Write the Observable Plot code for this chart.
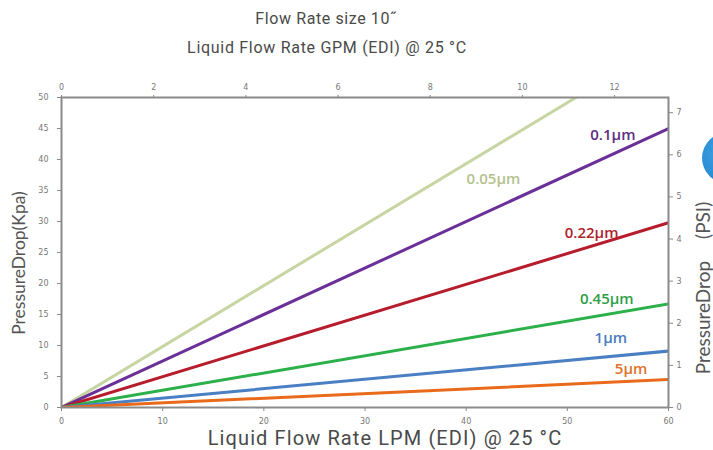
<!DOCTYPE html>
<html>
<head>
<meta charset="utf-8">
<script src="https://cdn.jsdelivr.net/npm/d3@7"></script>
<script src="https://cdn.jsdelivr.net/npm/@observablehq/plot@0.6"></script>
<style>
  html, body { margin: 0; padding: 0; background: #fff; }
  #wrap { position: relative; width: 713px; height: 450px; overflow: hidden; background: #fff; }
  #chart { position: absolute; left: 0; top: 0; }
  .t { position: absolute; white-space: nowrap; color: #4a4a4a; font-family: Roboto, "Noto Sans", sans-serif; }
  .rot { transform: translate(-50%, -50%) rotate(-90deg); line-height: 1; }
  .ctr { transform: translate(-50%, -50%); }
  #blob { position: absolute; left: 702px; top: 132px; width: 54px; height: 52px; border-radius: 50%;
          background: radial-gradient(circle at 35% 40%, #3aa0e4, #1f7cc4); }
</style>
</head>
<body>
<div id="wrap">
  <div id="chart"></div>
  <div id="blob"></div>
  <div class="t ctr" style="left:326px; top:18px; font-size:16px; letter-spacing:0.6px;">Flow Rate size 10˝</div>
  <div class="t ctr" style="left:327px; top:47px; font-size:16px; letter-spacing:0.7px;">Liquid Flow Rate GPM (EDI) @ 25 °C</div>
  <div class="t ctr" style="left:385px; top:438px; font-size:20px; letter-spacing:1.1px;">Liquid Flow Rate LPM (EDI) @ 25 °C</div>
  <div class="t rot" style="left:19px; top:263px; font-size:17.5px; font-family: Lato, 'Open Sans', sans-serif; color:#555;">PressureDrop(Kpa)</div>
  <div class="t rot" style="left:702px; top:288px; font-size:19px; font-family: Lato, 'Open Sans', sans-serif; color:#555;">PressureDrop<span style="display:inline-block;width:22px"></span>(PSI)</div>
</div>
<script>
// ---- data ----
const sizes      = ["0.05μm", "0.1μm", "0.22μm", "0.45μm", "1μm", "5μm"];
const flowLPM    = [0, 60];                          // flow endpoints (LPM)
const dropAt0    = [0, 0, 0, 0, 0, 0];               // Kpa at 0 LPM
const dropAt60   = [59.0, 45.0, 29.8, 16.7, 9.1, 4.5]; // Kpa at 60 LPM
const labelLPM   = [42.7, 54.5, 52.4, 53.9, 54.3, 56.3];
const labelKpa   = [36.9, 44.0, 28.1, 17.4, 11.1, 6.1];
const lineColors = ["#c6d5a1", "#6b2f99", "#b71c2c", "#2bb04a", "#4a7fc4", "#ea6a1c"];
const textColors = ["#b3c28e", "#5c2d82", "#b01f2d", "#2e9e47", "#4a7cc0", "#e0722a"];

const lpmTicks = [0, 10, 20, 30, 40, 50, 60];
const kpaTicks = [0, 5, 10, 15, 20, 25, 30, 35, 40, 45, 50];
const gpmTicks = [0, 2, 4, 6, 8, 10, 12];
const psiTicks = [0, 1, 2, 3, 4, 5, 6, 7];
const gpmMax = 13.17;   // top axis value at the right edge
const psiMax = 7.36;    // right axis value at the top edge

// ---- build tables ----
const lineData = [];
sizes.forEach((s, i) => {
  lineData.push({size: s, lpm: flowLPM[0], kpa: dropAt0[i]});
  lineData.push({size: s, lpm: flowLPM[1], kpa: dropAt60[i]});
});
const labelData = sizes.map((s, i) => ({size: s, lpm: labelLPM[i], kpa: labelKpa[i], color: textColors[i]}));

const lpmPerGpm = 60 / gpmMax;
const kpaPerPsi = 50 / psiMax;

const tickStyle = {fontSize: 8, color: "#777"};

const chart = Plot.plot({
  width: 713,
  height: 450,
  marginLeft: 61,
  marginRight: 45,
  marginTop: 97,
  marginBottom: 43,
  style: {fontFamily: "'DejaVu Sans', sans-serif", background: "transparent", overflow: "visible"},
  x: {domain: [0, 60]},
  y: {domain: [0, 50]},
  color: {domain: sizes, range: lineColors},
  marks: [
    Plot.line(lineData, {x: "lpm", y: "kpa", z: "size", stroke: "size", strokeWidth: 3, clip: true}),
    Plot.frame({stroke: "#8a8a8a", strokeWidth: 2}),
    Plot.axisY({anchor: "left", ticks: kpaTicks, tickSize: 4, tickPadding: 9, label: null, stroke: "#8a8a8a", ...tickStyle}),
    Plot.axisX({anchor: "bottom", ticks: lpmTicks, tickSize: 4, tickPadding: 7, label: null, stroke: "#8a8a8a", ...tickStyle}),
    Plot.axisX({anchor: "top", ticks: gpmTicks.map(g => g * lpmPerGpm), tickFormat: d => Math.round(d / lpmPerGpm),
                tickSize: 3, tickPadding: 5, label: null, stroke: "#8a8a8a", ...tickStyle}),
    Plot.axisY({anchor: "right", ticks: psiTicks.map(p => p * kpaPerPsi), tickFormat: d => Math.round(d / kpaPerPsi),
                tickSize: 4, tickPadding: 4, label: null, stroke: "#8a8a8a", ...tickStyle}),
    Plot.text(labelData, {x: "lpm", y: "kpa", text: "size", fill: d => d.color, fontSize: 15, fontWeight: 600,
                          fontFamily: "'Open Sans', Lato, sans-serif"})
  ]
});
document.getElementById("chart").appendChild(chart);
</script>
</body>
</html>
